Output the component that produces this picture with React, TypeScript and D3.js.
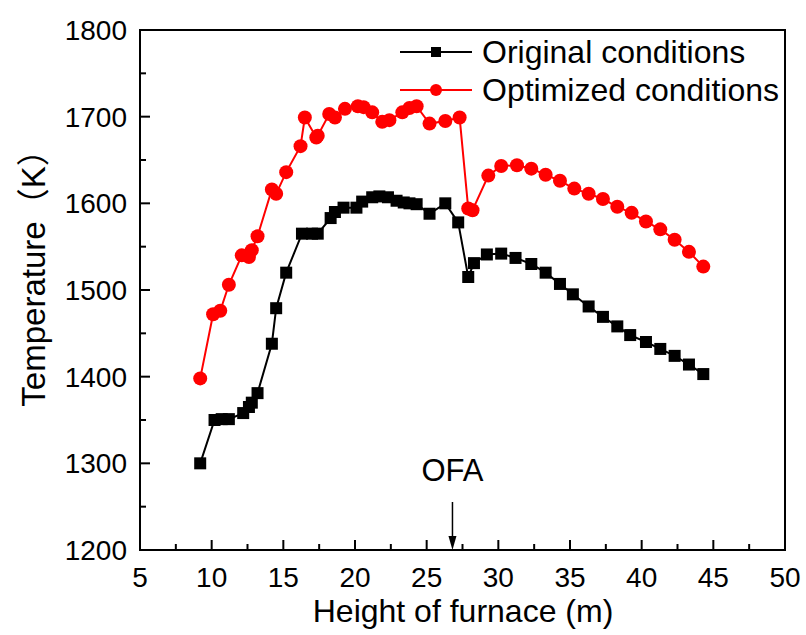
import React from "react";
import * as d3 from "d3";

const origX = [9.2,10.2,10.7,11.2,12.2,12.6,12.8,13.2,14.2,14.5,15.2,16.3,17.0,17.4,18.3,18.6,19.2,20.1,20.5,21.2,21.7,22.3,22.9,23.4,23.8,24.3,25.2,26.3,27.2,27.9,28.3,29.2,30.2,31.2,32.3,33.3,34.3,35.2,36.3,37.3,38.3,39.2,40.3,41.3,42.3,43.3,44.3];
const origT = [1300,1350,1351,1351,1358,1365,1370,1381,1438,1479,1520,1565,1565,1565,1583,1590,1595,1595,1602,1607,1608,1607,1603,1601,1600,1599,1588,1600,1578,1515,1531,1541,1542,1537,1530,1520,1507,1495,1481,1469,1458,1448,1440,1432,1424,1414,1403];

const optX = [9.2,10.1,10.6,11.2,12.1,12.6,12.8,13.2,14.2,14.5,15.2,16.2,16.5,17.3,17.4,18.2,18.6,19.3,20.2,20.6,21.2,21.9,22.4,23.3,23.8,24.3,25.2,26.3,27.3,27.9,28.2,29.3,30.2,31.3,32.3,33.3,34.3,35.3,36.3,37.3,38.3,39.3,40.3,41.3,42.3,43.3,44.3];
const optT = [1398,1472,1476,1506,1540,1538,1546,1562,1616,1611,1636,1666,1699,1676,1678,1703,1699,1709,1712,1711,1705,1694,1696,1705,1710,1712,1692,1695,1699,1594,1592,1632,1643,1644,1640,1633,1626,1617,1611,1605,1596,1589,1579,1570,1558,1544,1527];

const xTicks = [5,10,15,20,25,30,35,40,45,50];
const yTicks = [1200,1300,1400,1500,1600,1700,1800];
const seriesNames = ["Original conditions", "Optimized conditions"];
const ofaX = 26.8;

const FONT = "'Liberation Sans', Arial, 'Noto Sans CJK SC', sans-serif";

export default function App() {
  const W = 806, H = 635;
  const left = 140, right = 785, top = 30, bottom = 550;
  const x = d3.scaleLinear().domain([5, 50]).range([left, right]);
  const y = d3.scaleLinear().domain([1200, 1800]).range([bottom, top]);
  const line = d3.line<[number, number]>().x(d => x(d[0])).y(d => y(d[1]));
  const orig: [number, number][] = origX.map((v, i) => [v, origT[i]]);
  const opt: [number, number][] = optX.map((v, i) => [v, optT[i]]);
  const xMinor = d3.range(7.5, 50, 5);
  const yMinor = d3.range(1250, 1800, 100);
  const sq = 12;

  return (
    <svg width={W} height={H} style={{ position: "absolute", left: 0, top: 0, background: "#fff" }} fontFamily={FONT}>
      <rect x={0} y={0} width={W} height={H} fill="#fff" />
      {/* series lines */}
      <path d={line(orig) || ""} fill="none" stroke="#000" strokeWidth={2} />
      <path d={line(opt) || ""} fill="none" stroke="#ff0000" strokeWidth={2} />
      {orig.map((d, i) => (
        <rect key={"o" + i} x={x(d[0]) - sq / 2} y={y(d[1]) - sq / 2} width={sq} height={sq} fill="#000" />
      ))}
      {opt.map((d, i) => (
        <circle key={"p" + i} cx={x(d[0])} cy={y(d[1])} r={7} fill="#ff0000" />
      ))}
      {/* frame */}
      <rect x={left} y={top} width={right - left} height={bottom - top} fill="none" stroke="#000" strokeWidth={2} />
      {/* x ticks */}
      {xTicks.map(t => (
        <g key={"xt" + t}>
          <line x1={x(t)} x2={x(t)} y1={bottom} y2={bottom - 10} stroke="#000" strokeWidth={2} />
          <text x={x(t)} y={587} textAnchor="middle" fontSize={28}>{t}</text>
        </g>
      ))}
      {xMinor.map(t => (
        <line key={"xm" + t} x1={x(t)} x2={x(t)} y1={bottom} y2={bottom - 6} stroke="#000" strokeWidth={2} />
      ))}
      {yTicks.map(t => (
        <g key={"yt" + t}>
          <line x1={left} x2={left + 10} y1={y(t)} y2={y(t)} stroke="#000" strokeWidth={2} />
          <text x={127} y={y(t) + 10} textAnchor="end" fontSize={28}>{t}</text>
        </g>
      ))}
      {yMinor.map(t => (
        <line key={"ym" + t} x1={left} x2={left + 6} y1={y(t)} y2={y(t)} stroke="#000" strokeWidth={2} />
      ))}
      {/* axis titles */}
      <text x={463} y={622} textAnchor="middle" fontSize={32}>Height of furnace (m)</text>
      <text transform={`translate(45,270) rotate(-90)`} textAnchor="middle" fontSize={33}>Temperature（K）</text>
      {/* OFA annotation */}
      <text x={x(ofaX)} y={481} textAnchor="middle" fontSize={31}>OFA</text>
      <line x1={x(ofaX)} x2={x(ofaX)} y1={502} y2={540} stroke="#000" strokeWidth={1.5} />
      <path d={`M${x(ofaX) - 4},${536} L${x(ofaX) + 4},${536} L${x(ofaX)},${bottom} Z`} fill="#000" />
      {/* legend */}
      <g>
        <line x1={400} x2={472} y1={52} y2={52} stroke="#000" strokeWidth={2} />
        <rect x={436 - 5} y={52 - 5} width={10} height={10} fill="#000" />
        <text x={482} y={63} fontSize={32}>{seriesNames[0]}</text>
        <line x1={400} x2={472} y1={90} y2={90} stroke="#ff0000" strokeWidth={2} />
        <circle cx={436} cy={90} r={6} fill="#ff0000" />
        <text x={482} y={101} fontSize={32}>{seriesNames[1]}</text>
      </g>
    </svg>
  );
}
